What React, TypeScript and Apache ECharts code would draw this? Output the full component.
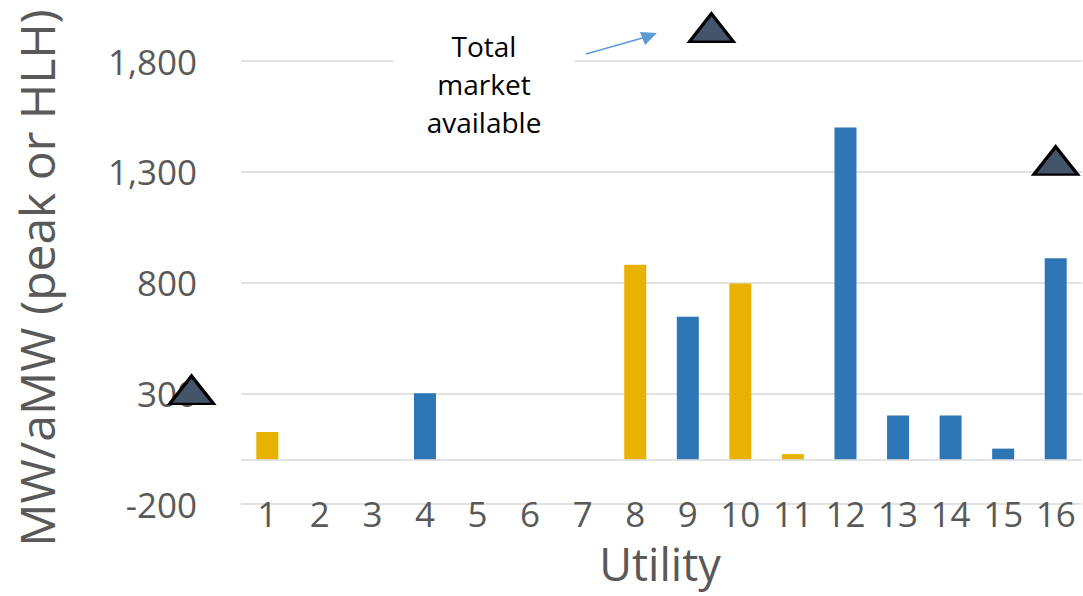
import React, { useEffect, useRef } from "react";
import * as echarts from "echarts";

// Utilities 1..16 along the category axis
const utilities = ["1", "2", "3", "4", "5", "6", "7", "8", "9", "10", "11", "12", "13", "14", "15", "16"];

// Gold bars (null where the utility has none)
const goldValues = [125, null, null, null, null, null, null, 880, null, 795, 25, null, null, null, null, null];

// Blue bars
const blueValues = [null, null, null, 300, null, null, null, null, 645, null, null, 1500, 200, 200, 50, 910];

// Total market markers: [position along the utility scale, MW]
const marketMarkers: [number, number][] = [
  [-0.44, 315],
  [9.45, 1950],
  [16, 1350],
];

const yTicks = { min: -200, max: 1800, interval: 500 };

const FONT = "'Open Sans', 'Noto Sans', sans-serif";
const GREY_TEXT = "#595959";

export default function App() {
  const ref = useRef<HTMLDivElement>(null);

  useEffect(() => {
    document.body.style.margin = "0";
    const chart = echarts.init(ref.current!, undefined, { renderer: "svg" });

    chart.setOption({
      animation: false,
      backgroundColor: "#ffffff",
      grid: { left: 241, right: 1, top: 61, bottom: 92, containLabel: false },
      xAxis: [
        {
          type: "category",
          data: utilities,
          axisLine: { show: false },
          axisTick: { show: false },
          axisLabel: {
            color: GREY_TEXT,
            fontFamily: FONT,
            fontSize: 35,
            margin: -8,
          },
        },
        {
          type: "value",
          min: 0.5,
          max: 16.5,
          show: false,
        },
      ],
      yAxis: {
        type: "value",
        min: yTicks.min,
        max: yTicks.max,
        interval: yTicks.interval,
        axisLine: { show: false },
        axisTick: { show: false },
        splitLine: { lineStyle: { color: "#d9d9d9", width: 1.5 } },
        axisLabel: {
          color: GREY_TEXT,
          fontFamily: FONT,
          fontSize: 35,
          margin: 44,
          formatter: (v: number) => v.toLocaleString("en-US"),
        },
      },
      series: [
        {
          type: "bar",
          name: "gold",
          data: goldValues,
          stack: "u",
          barWidth: 22,
          itemStyle: { color: "#E9B200" },
          markLine: {
            silent: true,
            symbol: "none",
            label: { show: false },
            lineStyle: { color: "#d9d9d9", width: 1.5, type: "solid" },
            data: [{ yAxis: 0 }],
          },
        },
        {
          type: "bar",
          name: "blue",
          data: blueValues,
          stack: "u",
          barWidth: 22,
          itemStyle: { color: "#2E75B6" },
        },
        {
          type: "scatter",
          name: "Total market available",
          xAxisIndex: 1,
          data: marketMarkers,
          clip: false,
          symbol: "triangle",
          symbolSize: [44, 28],
          z: 5,
          itemStyle: {
            color: "#44546A",
            opacity: 1,
            borderColor: "#000000",
            borderWidth: 3,
          },
        },
      ],
      graphic: [
        {
          type: "text",
          x: 36,
          y: 278,
          rotation: Math.PI / 2,
          style: {
            text: "MW/aMW (peak or HLH)",
            fill: GREY_TEXT,
            font: `48px ${FONT}`,
            align: "center",
            verticalAlign: "middle",
          },
        },
        {
          type: "text",
          x: 660,
          y: 563,
          style: {
            text: "Utility",
            fill: GREY_TEXT,
            font: `45px ${FONT}`,
            align: "center",
            verticalAlign: "middle",
          },
        },
        {
          type: "rect",
          shape: { x: 393, y: 22, width: 182, height: 118 },
          style: { fill: "#ffffff" },
          z: 10,
        },
        {
          type: "text",
          x: 484,
          y: 84,
          z: 11,
          style: {
            text: "Total\nmarket\navailable",
            fill: "#000000",
            font: `28px ${FONT}`,
            lineHeight: 38,
            align: "center",
            verticalAlign: "middle",
          },
        },
        {
          type: "line",
          z: 11,
          shape: { x1: 586, y1: 54, x2: 646, y2: 37 },
          style: { stroke: "#5B9BD5", lineWidth: 1.5 },
        },
        {
          type: "polygon",
          z: 11,
          shape: { points: [[657, 33], [640, 32], [645, 45]] },
          style: { fill: "#5B9BD5" },
        },
      ],
    });

    return () => chart.dispose();
  }, []);

  return <div ref={ref} style={{ width: 1083, height: 596 }} />;
}
